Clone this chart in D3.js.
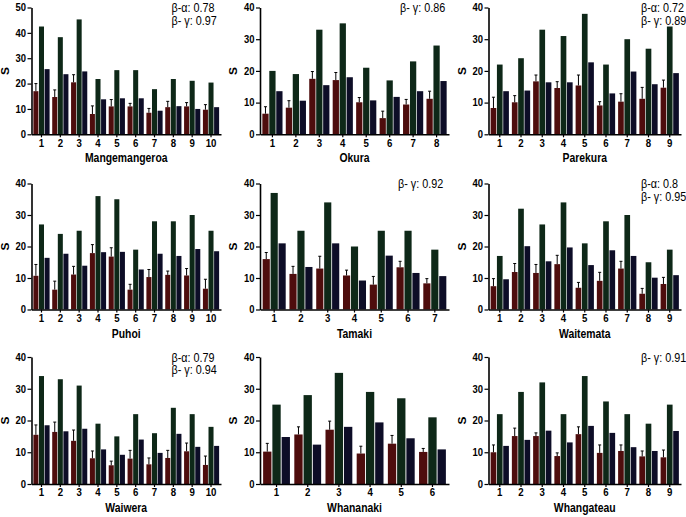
<!DOCTYPE html>
<html>
<head>
<meta charset="utf-8">
<script src="https://cdn.jsdelivr.net/npm/d3@7"></script>
<style>
  body { margin: 0; background: #fff; }
  svg { display: block; }
</style>
</head>
<body>
<script>
// Site names and y-axis maxima
var sites = ["Mangemangeroa", "Okura", "Parekura", "Puhoi", "Tamaki", "Waitemata", "Waiwera", "Whananaki", "Whangateau"];
var yMaxes = [50, 40, 40, 40, 40, 40, 40, 40, 40];

// Mean S per sample (dark red bars)
var meanS = [
  [17, 14.7, 20.5, 8, 11, 11, 8.5, 10.7, 11, 9.7],
  [6.5, 8.4, 17.5, 17.1, 10.1, 5.1, 9.4, 11.2],
  [8.3, 10.1, 16.7, 14.6, 15.4, 9.1, 10.3, 11.2, 14.7],
  [10.7, 6.3, 11.1, 17.9, 16.8, 6.3, 10.3, 11, 10.8, 6.6],
  [16, 11.3, 13, 10.8, 7.9, 13.4, 8.3],
  [7.4, 11.9, 11.6, 14.4, 6.9, 9.1, 13, 5, 8.1],
  [15.5, 16.4, 13.6, 8.1, 5.9, 8, 6.2, 8.2, 10.3, 6],
  [10.2, 15.6, 17.1, 9.6, 12.7, 10.1],
  [10, 15.1, 15.1, 8.8, 15.7, 9.8, 10.4, 8.7, 8.4]
];
// Error (upper whisker length) on the mean
var meanErr = [
  [3, 2.8, 3, 3.2, 2.7, 1.2, 1.7, 2.3, 1.5, 2],
  [2.2, 2.2, 2.3, 2.4, 1.5, 2.2, 1.6, 2.4],
  [3.4, 2.1, 2, 2, 3.3, 1.2, 2.5, 3.6, 2.4],
  [3.6, 2.7, 2.6, 2.7, 2.8, 1.7, 2.4, 1.2, 2.2, 3],
  [2.1, 2.4, 3.9, 1.7, 2.6, 1.9, 1.5],
  [2.4, 2.7, 2.7, 2.8, 1.7, 2.7, 2.3, 1.7, 2.1],
  [3.1, 3.1, 3.4, 2.3, 1.3, 2.6, 2, 2.4, 2.6, 2.8],
  [2.6, 2.4, 2.7, 2.3, 2.6, 1.1],
  [2.3, 2.5, 1, 1, 2.3, 2.5, 1.9, 1.7, 2.3]
];
// Total S (dark green bars)
var totalS = [
  [42.5, 38.3, 45.3, 21.8, 25.3, 25.3, 17.8, 21.8, 21.1, 20.4],
  [20, 19, 33, 35, 21, 17, 23, 28],
  [22, 24, 33, 31, 38, 22, 30, 27, 34],
  [27, 24, 25, 36, 35, 19, 28, 28, 30, 25],
  [37, 25, 34, 20, 25, 25, 19],
  [17, 32, 27, 34, 21, 28, 30, 15, 19],
  [34, 33, 31, 19, 15, 22, 16, 24, 22, 18],
  [25, 28, 35, 29, 27, 21],
  [22, 29, 32, 22, 34, 26, 22, 19, 25]
];
// Estimated S (navy bars)
var estS = [
  [25.7, 23.7, 24.8, 13.8, 14.2, 14.2, 9.3, 11.1, 10, 10.7],
  [13.6, 10.6, 15.5, 18, 10.7, 11.8, 13.6, 16.8],
  [13.6, 13.8, 16.4, 16.4, 22.7, 12.9, 19.8, 15.8, 19.3],
  [16.4, 17.7, 13.9, 18.2, 18.3, 12.7, 17.7, 17, 19.2, 18.5],
  [21, 13.5, 21, 9.2, 17.1, 11.6, 10.6],
  [9.6, 20.1, 15.3, 19.7, 14.1, 18.8, 17, 10.1, 10.9],
  [18.5, 16.6, 17.4, 10.9, 9.2, 14, 9.8, 15.8, 11.7, 12],
  [14.8, 12.4, 18, 19.4, 14.4, 10.9],
  [12, 13.9, 16.8, 13.1, 18.3, 16.1, 11.6, 10.4, 16.7]
];
// Beta diversity annotations
var betaAlpha = ["0.78", null, "0.72", null, null, "0.8", "0.79", null, null];
var betaGamma = ["0.97", "0.86", "0.89", null, "0.92", "0.95", "0.94", null, "0.91"];

var colors = ["#4e0d0d", "#0e2818", "#0d0d27"];

// Panel grid geometry
var colAxisX = [31.5, 260, 488.5];
var colRight = [221, 449, 681];
var rowTop = [7.5, 183.5, 357];
var rowZero = [134.3, 309.5, 484];
var annoX = [171.5, 400, 641];

var svg = d3.select("body").append("svg")
  .attr("width", 686)
  .attr("height", 517)
  .style("font-family", "'Liberation Sans', Arial, sans-serif");

svg.append("rect").attr("width", 686).attr("height", 517).attr("fill", "#fff");

// text squeezed horizontally like the original figure
function label(g, x, y, s, size, weight, anchor, sx) {
  return g.append("text")
    .attr("transform", "translate(" + x + "," + y + ") scale(" + sx + ",1)")
    .attr("text-anchor", anchor)
    .style("font-size", size + "px")
    .style("font-weight", weight)
    .attr("fill", "#000")
    .text(s);
}

sites.forEach(function(site, i) {
  var col = i % 3, row = Math.floor(i / 3);
  var x0 = colAxisX[col], x1 = colRight[col];
  var yT = rowTop[row], yZ = rowZero[row];
  var n = meanS[i].length;
  var g = svg.append("g");

  var x = d3.scaleBand()
    .domain(d3.range(1, n + 1).map(String))
    .range([x0, x1])
    .paddingInner(0.14)
    .paddingOuter(0.1);
  var xs = d3.scaleBand()
    .domain([0, 1, 2])
    .range([0, x.bandwidth()])
    .paddingInner(0.1);
  var y = d3.scaleLinear().domain([0, yMaxes[i]]).range([yZ, yT]);

  var rows = meanS[i].map(function(m, k) {
    return { key: String(k + 1), vals: [m, totalS[i][k], estS[i][k]], err: meanErr[i][k] };
  });

  var grp = g.selectAll("g.grp").data(rows).enter().append("g")
    .attr("transform", function(d) { return "translate(" + x(d.key) + ",0)"; });

  grp.selectAll("rect").data(function(d) { return d.vals; }).enter().append("rect")
    .attr("x", function(d, j) { return xs(j); })
    .attr("y", function(d) { return y(d); })
    .attr("width", xs.bandwidth())
    .attr("height", function(d) { return yZ - y(d); })
    .attr("fill", function(d, j) { return colors[j]; });

  // error bars on the mean
  grp.append("line")
    .attr("x1", xs(0) + xs.bandwidth() / 2)
    .attr("x2", xs(0) + xs.bandwidth() / 2)
    .attr("y1", function(d) { return y(d.vals[0]); })
    .attr("y2", function(d) { return y(d.vals[0] + d.err); })
    .attr("stroke", "#000").attr("stroke-width", 1);
  grp.append("line")
    .attr("x1", xs(0) + xs.bandwidth() / 2 - 1.5)
    .attr("x2", xs(0) + xs.bandwidth() / 2 + 1.5)
    .attr("y1", function(d) { return y(d.vals[0] + d.err); })
    .attr("y2", function(d) { return y(d.vals[0] + d.err); })
    .attr("stroke", "#000").attr("stroke-width", 1);

  // axes
  var ya = g.append("g").attr("transform", "translate(" + x0 + ",0)")
    .call(d3.axisLeft(y).tickValues(d3.range(0, yMaxes[i] + 1, 10)).tickSize(4).tickSizeOuter(0).tickPadding(2));
  var xa = g.append("g").attr("transform", "translate(0," + yZ + ")")
    .call(d3.axisBottom(x).tickSize(3).tickSizeOuter(0).tickPadding(2));
  [ya, xa].forEach(function(a) {
    a.select(".domain").attr("stroke-width", 1.6);
    a.selectAll(".tick line").attr("stroke-width", 1.2);
    a.selectAll("text")
      .style("font-size", "10.5px")
      .style("font-weight", "bold")
      .style("font-family", "'Liberation Sans', Arial, sans-serif");
  });
  ya.selectAll("text").attr("transform", "scale(0.9,1)");
  xa.selectAll("text").attr("transform", "scale(0.92,1)");

  // y label and site title
  var sy = (yT + yZ) / 2;
  g.append("text")
    .attr("transform", "translate(" + (x0 - 23) + "," + sy + ") rotate(-90) scale(1,0.85)")
    .attr("text-anchor", "middle")
    .style("font-size", "12px").style("font-weight", "bold")
    .text("S");
  label(g, (x0 + x1) / 2, yZ + 28, site, 13, "bold", "middle", 0.8);

  // beta annotations
  var lines = [];
  if (betaAlpha[i]) lines.push("\u03b2-\u03b1: " + betaAlpha[i]);
  if (betaGamma[i]) lines.push("\u03b2- \u03b3: " + betaGamma[i]);
  lines.forEach(function(s, k) {
    label(g, annoX[col] - (i === 4 ? 2 : 0), yT + 4.5 + k * 12.7, s, 12, "normal", "start", 0.9);
  });
});
</script>
</body>
</html>
